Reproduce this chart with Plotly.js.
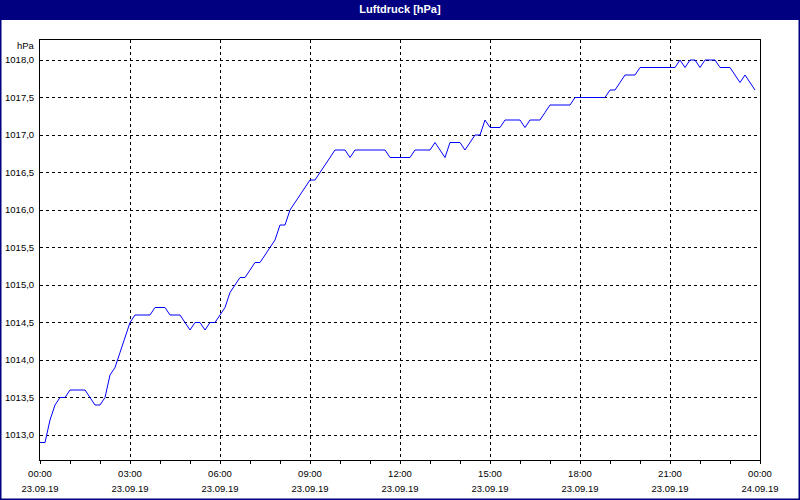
<!DOCTYPE html>
<html>
<head>
<meta charset="utf-8">
<script src="https://cdn.plot.ly/plotly-3.0.1.min.js"></script>
<style>
html,body{margin:0;padding:0;background:#ffffff;}
#chart{width:800px;height:500px;}
</style>
</head>
<body>
<div id="chart"></div>
<script>
const chartTitle = "Luftdruck [hPa]";
const unitLabel = "hPa";
const day = "2019-09-23";
const rangeStart = "2019-09-23 00:00";
const rangeEnd = "2019-09-24 00:00";
const yRange = [1012.6667, 1018.2667];

const times = [
  "00:00","00:10","00:20","00:30","00:40","00:50",
  "01:00","01:10","01:20","01:30","01:40","01:50",
  "02:00","02:10","02:20","02:30","02:40","02:50",
  "03:00","03:10","03:20","03:30","03:40","03:50",
  "04:00","04:10","04:20","04:30","04:40","04:50",
  "05:00","05:10","05:20","05:30","05:40","05:50",
  "06:00","06:10","06:20","06:30","06:40","06:50",
  "07:00","07:10","07:20","07:30","07:40","07:50",
  "08:00","08:10","08:20","08:30","08:40","08:50",
  "09:00","09:10","09:20","09:30","09:40","09:50",
  "10:00","10:10","10:20","10:30","10:40","10:50",
  "11:00","11:10","11:20","11:30","11:40","11:50",
  "12:00","12:10","12:20","12:30","12:40","12:50",
  "13:00","13:10","13:20","13:30","13:40","13:50",
  "14:00","14:10","14:20","14:30","14:40","14:50",
  "15:00","15:10","15:20","15:30","15:40","15:50",
  "16:00","16:10","16:20","16:30","16:40","16:50",
  "17:00","17:10","17:20","17:30","17:40","17:50",
  "18:00","18:10","18:20","18:30","18:40","18:50",
  "19:00","19:10","19:20","19:30","19:40","19:50",
  "20:00","20:10","20:20","20:30","20:40","20:50",
  "21:00","21:10","21:20","21:30","21:40","21:50",
  "22:00","22:10","22:20","22:30","22:40","22:50",
  "23:00","23:10","23:20","23:30","23:40","23:50"
];

const pressure = [
  1012.9,1012.9,1013.2,1013.4,1013.5,1013.5,
  1013.6,1013.6,1013.6,1013.6,1013.5,1013.4,
  1013.4,1013.5,1013.8,1013.9,1014.1,1014.3,
  1014.5,1014.6,1014.6,1014.6,1014.6,1014.7,
  1014.7,1014.7,1014.6,1014.6,1014.6,1014.5,
  1014.4,1014.5,1014.5,1014.4,1014.5,1014.5,
  1014.6,1014.7,1014.9,1015.0,1015.1,1015.1,
  1015.2,1015.3,1015.3,1015.4,1015.5,1015.6,
  1015.8,1015.8,1016.0,1016.1,1016.2,1016.3,
  1016.4,1016.4,1016.5,1016.6,1016.7,1016.8,
  1016.8,1016.8,1016.7,1016.8,1016.8,1016.8,
  1016.8,1016.8,1016.8,1016.8,1016.7,1016.7,
  1016.7,1016.7,1016.7,1016.8,1016.8,1016.8,
  1016.8,1016.9,1016.8,1016.7,1016.9,1016.9,
  1016.9,1016.8,1016.9,1017.0,1017.0,1017.2,
  1017.1,1017.1,1017.1,1017.2,1017.2,1017.2,
  1017.2,1017.1,1017.2,1017.2,1017.2,1017.3,
  1017.4,1017.4,1017.4,1017.4,1017.4,1017.5,
  1017.5,1017.5,1017.5,1017.5,1017.5,1017.5,
  1017.6,1017.6,1017.7,1017.8,1017.8,1017.8,
  1017.9,1017.9,1017.9,1017.9,1017.9,1017.9,
  1017.9,1017.9,1018.0,1017.9,1018.0,1018.0,
  1017.9,1018.0,1018.0,1018.0,1017.9,1017.9,
  1017.9,1017.8,1017.7,1017.8,1017.7,1017.6
];

const xs = times.map(t => day + " " + t);

// pixel helpers for decorations outside the plot (plot area 40..760 x 40..460)
const L = 40, R = 40, T = 40, B = 40, W = 800, H = 500;
const pw = W - L - R, ph = H - T - B;
const px = v => (v - L) / pw;
const py = v => 1 - (v - T) / ph;

const fontFamily = "'Liberation Sans', Arial, sans-serif";

const trace = {
  x: xs, y: pressure, type: "scatter", mode: "lines",
  line: {color: "#0000ff", width: 1},
  hoverinfo: "x+y", showlegend: false
};

const layout = {
  width: W, height: H,
  margin: {l: L, r: R, t: T, b: B, pad: 0},
  paper_bgcolor: "#ffffff",
  plot_bgcolor: "#ffffff",
  separators: ",.",
  showlegend: false,
  font: {family: fontFamily, size: 9.5, color: "#000000"},
  title: {
    text: "<b>" + chartTitle + "</b>",
    font: {family: fontFamily, size: 11, color: "#ffffff"},
    x: 0.5, xref: "container", xanchor: "center",
    y: 1 - 9.5 / H, yref: "container", yanchor: "middle"
  },
  xaxis: {
    type: "date",
    range: [rangeStart, rangeEnd],
    tick0: rangeStart, dtick: 3 * 3600000,
    tickformat: "%H:%M",
    ticks: "outside", ticklen: 3, tickcolor: "#000000", tickwidth: 1,
    minor: {dtick: 3600000, tick0: rangeStart, ticks: "outside", ticklen: 3, tickcolor: "#000000", tickwidth: 1, showgrid: false},
    showgrid: true, gridcolor: "#000000", gridwidth: 1, griddash: "3px,3px",
    showline: true, linecolor: "#000000", linewidth: 1, mirror: true,
    zeroline: false, ticklabelstandoff: 2,
    tickfont: {family: fontFamily, size: 9.5, color: "#000000"},
    fixedrange: true
  },
  xaxis2: {
    type: "date",
    overlaying: "x", anchor: "y", side: "bottom",
    range: [rangeStart, rangeEnd],
    tick0: rangeStart, dtick: 3 * 3600000,
    tickformat: "%d.%m.%y",
    ticks: "", showgrid: false, showline: false, zeroline: false,
    ticklabelstandoff: 21,
    tickfont: {family: fontFamily, size: 9.5, color: "#000000"},
    fixedrange: true
  },
  yaxis: {
    range: yRange,
    tick0: 1013, dtick: 0.5,
    tickformat: ".1f",
    ticks: "",
    showgrid: true, gridcolor: "#000000", gridwidth: 1, griddash: "3px,3px",
    showline: true, linecolor: "#000000", linewidth: 1, mirror: true,
    zeroline: false, ticklabelstandoff: 3,
    tickfont: {family: fontFamily, size: 9.5, color: "#000000"},
    fixedrange: true
  },
  shapes: [
    {type: "rect", xref: "paper", yref: "paper", layer: "below",
     x0: px(-5), x1: px(W + 5), y0: py(20), y1: py(-5),
     fillcolor: "#000080", line: {width: 0}},
    {type: "rect", xref: "paper", yref: "paper", layer: "above",
     x0: px(0.75), x1: px(W - 0.75), y0: py(H - 0.75), y1: py(0.75),
     fillcolor: "rgba(0,0,0,0)", line: {color: "#000080", width: 1.5}}
  ],
  annotations: [
    {text: unitLabel, xref: "paper", yref: "paper", x: 0, y: 1,
     xanchor: "right", yanchor: "middle", xshift: -3, yshift: -5,
     showarrow: false, font: {family: fontFamily, size: 9.5, color: "#000000"}}
  ]
};

const dateAxisTrace = {
  x: [rangeStart, rangeEnd], y: [null, null], xaxis: "x2", yaxis: "y",
  type: "scatter", mode: "lines", hoverinfo: "skip", showlegend: false,
  line: {color: "rgba(0,0,0,0)", width: 0}
};

Plotly.newPlot("chart", [trace, dateAxisTrace], layout, {displayModeBar: false, staticPlot: true});
</script>
</body>
</html>
